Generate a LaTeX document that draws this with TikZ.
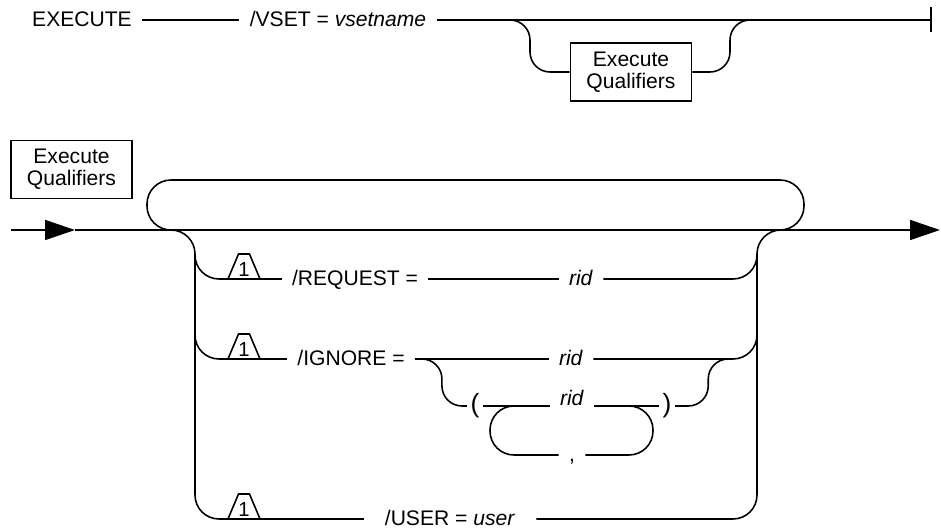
\documentclass[tikz,border=0pt]{standalone}
\usepackage{fontspec}
\setmainfont{Liberation Sans}
\usetikzlibrary{arrows.meta,calc}

\begin{document}
\begin{tikzpicture}[
  x=0.02cm, y=-0.02cm,
  font=\fontsize{12pt}{12.6pt}\selectfont,
  rail/.style={line width=0.9pt},
  rnd/.style={rail, rounded corners=0.48cm},
  lbl/.style={inner xsep=0.2cm, inner ysep=0pt, text height=0.72em, text depth=0pt},
  par/.style={lbl, inner xsep=0.07cm, font=\fontsize{15pt}{16pt}\selectfont},
  num/.style={lbl, inner xsep=0pt, font=\fontsize{11.5pt}{12pt}\selectfont},
  qbox/.style={draw, line width=0.9pt, align=center, minimum width=2.42cm,
               minimum height=1.16cm, inner sep=2pt},
  arr/.style={-{Triangle[length=0.6cm,width=0.4cm]}},
  endbar/.style={-{Bar[width=0.5cm]}},
]
\useasboundingbox (0,3) rectangle (941,533);
% ---- footnote trapezoid: #1 id #2 x #3 y (base on the row line) ----
\newcommand{\notetrap}[3]{%
  \draw[rail] (#2-16,#3) -- (#2-5.5,#3-25) -- (#2+5.5,#3-25) -- (#2+16,#3) -- cycle;%
  \node[num] (#1) at (#2,#3-9) {1};%
  \coordinate (#1-w) at (#2-16,#3);\coordinate (#1-e) at (#2+16,#3);%
}

% ======================= EXECUTE line =======================
\node[lbl] (exe) at (82,23) {EXECUTE};
\node[lbl] (vset) at (338,23) {/VSET = \textit{vsetname}};
\node[qbox] (qb1) at (631,75) {Execute\\Qualifiers};
\coordinate (stop) at (932,23);
\coordinate (qin) at (510,23);
\coordinate (qout) at (750,23);

\draw[rail] (exe) -- (vset);
\draw[rail, endbar] (vset) -- (stop);
% optional qualifiers
\draw[rail, rounded corners=0.4cm] (qin) -- ++(20,0) |- (qb1);
\draw[rail, rounded corners=0.4cm] (qout) -- ++(-20,0) |- (qb1);

% ======================= Execute Qualifiers =======================
\node[qbox] (qb2) at (71.5,172.5) {Execute\\Qualifiers};
\coordinate (in) at (11,233);
\coordinate (tip) at (75,233);
\coordinate (out) at (940,233);
\draw[rail, arr] (in) -- (tip);
\draw[rail, arr] (tip) -- (out);

% repeat loop above the main line
\coordinate (lp-l) at (172,233);
\coordinate (lp-r) at (779,233);
\draw[rnd] (lp-l) -- ++(-25,0) |- ++(657,-50) |- (lp-r);

% rails on both sides
\coordinate (rl-t) at (170,233);\coordinate (rr-t) at (782,233);
\coordinate (rl-r) at (195,257);\coordinate (rl-i) at (195,337);
\coordinate (rr-r) at (757,257);\coordinate (rr-i) at (757,337);

% /REQUEST row
\notetrap{fr}{244}{282}
\node[lbl] (req) at (355,282) {/REQUEST =};
\node[lbl] (ridr) at (581,282) {\textit{rid}};
\draw[rnd] (fr-w) -| (rl-r);
\draw[rail] (fr-e) -- (req);
\draw[rail] (req) -- (ridr);
\draw[rnd] (ridr) -| (rr-r);

% /IGNORE row
\notetrap{fi}{244}{362}
\node[lbl] (ign) at (351,362) {/IGNORE =};
\node[lbl] (ridi) at (571,362) {\textit{rid}};
\coordinate (ij) at (733,362);
\draw[rnd] (fi-w) -| (rl-i);
\draw[rail] (fi-e) -- (ign);
\draw[rail] (ign) -- (ridi);
\draw[rnd] (ridi) -| (rr-i);

% list in parentheses
\node[par] (lpar) at (475,409) {(};
\node[lbl] (ridl) at (572,409) {\raisebox{0.14cm}{\textit{rid}}};
\node[par] (rpar) at (667,409) {)};
\draw[rail, rounded corners=0.4cm] (ign.east) -- ++(27,0) |- (lpar);
\draw[rail] (lpar) -- (ridl) -- (rpar);
\draw[rail, rounded corners=0.4cm] (rpar.east) -- ++(33,0) |- (ij);

% comma repeat
\node[lbl] (comma) at (572,458) {,};
\coordinate (cl) at (514,409);
\coordinate (cr) at (629,409);
\draw[rnd] (cl) -- ++(-24,0) |- (comma);
\draw[rnd] (cr) -- ++(24,0) |- (comma);

% /USER row (bottom of the frame)
\notetrap{fu}{244}{522}
\node[lbl, inner xsep=0.42cm] (user) at (450,522) {/USER = \textit{user}};
\draw[rnd] (rl-t) -| (fu-w -| rl-r) -- (fu-w);
\draw[rail] (fu-e) -- (user);
\draw[rnd] (user) -| (rr-t -| rr-r) -- (rr-t);
\end{tikzpicture}
\end{document}
